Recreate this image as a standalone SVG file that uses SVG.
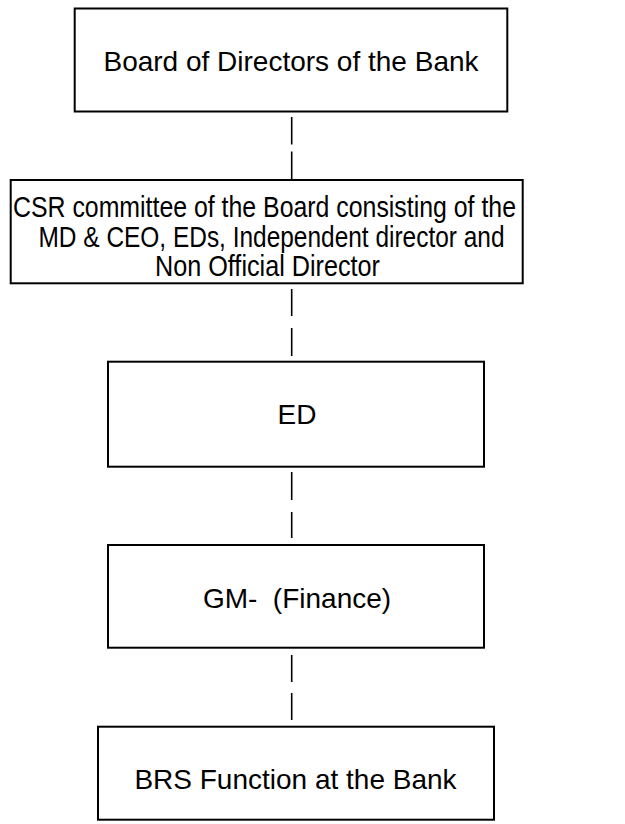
<svg xmlns="http://www.w3.org/2000/svg" width="625" height="824" viewBox="0 0 625 824">
<style>
.box{fill:#fff;stroke:#000;stroke-width:2}
.t{font-family:"Liberation Sans",Arial,sans-serif;font-size:28px;fill:#000;text-anchor:middle;white-space:pre}
.c{font-family:"Liberation Sans",Arial,sans-serif;font-size:29px;fill:#000}
.conn{stroke:#000;stroke-width:1.6;fill:none}
</style>
<rect width="625" height="824" fill="#fff"/>
<g id="connectors">
<line class="conn" x1="291.7" y1="117" x2="291.7" y2="144.5"/>
<line class="conn" x1="291.7" y1="151.5" x2="291.7" y2="179"/>
<line class="conn" x1="291.7" y1="289" x2="291.7" y2="316"/>
<line class="conn" x1="291.7" y1="328" x2="291.7" y2="356"/>
<line class="conn" x1="291.7" y1="472" x2="291.7" y2="500"/>
<line class="conn" x1="291.7" y1="512" x2="291.7" y2="538"/>
<line class="conn" x1="291.7" y1="655" x2="291.7" y2="682"/>
<line class="conn" x1="291.7" y1="693" x2="291.7" y2="720"/>
</g>
<g id="board">
<rect class="box" x="74.7" y="8.5" width="432.6" height="103"/>
<text class="t" x="291" y="71">Board of Directors of the Bank</text>
</g>
<g id="csr">
<rect class="box" x="10.7" y="180" width="512" height="103.3"/>
<text class="c" x="13" y="216.5" textLength="503" lengthAdjust="spacingAndGlyphs">CSR committee of the Board consisting of the</text>
<text class="c" x="38.5" y="246.5" textLength="466" lengthAdjust="spacingAndGlyphs">MD &amp; CEO, EDs, Independent director and</text>
<text class="c" x="155" y="276" textLength="225" lengthAdjust="spacingAndGlyphs">Non Official Director</text>
</g>
<g id="ed">
<rect class="box" x="108" y="361.7" width="376" height="105"/>
<text class="t" x="297" y="424">ED</text>
</g>
<g id="gm">
<rect class="box" x="108" y="545" width="376" height="102.7"/>
<text class="t" x="297" y="608">GM-  (Finance)</text>
</g>
<g id="brs">
<rect class="box" x="98" y="726.7" width="396" height="93"/>
<text class="t" x="295.5" y="789">BRS Function at the Bank</text>
</g>
</svg>
